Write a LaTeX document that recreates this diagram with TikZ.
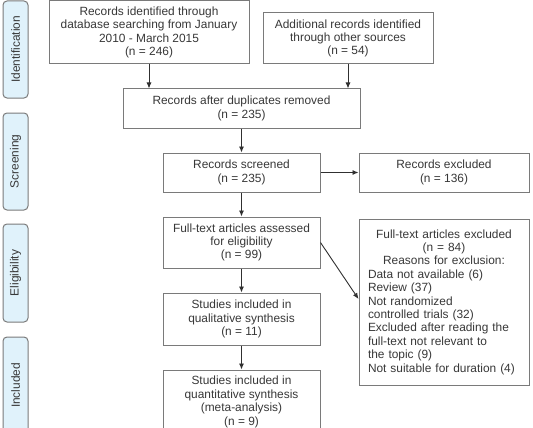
\documentclass[tikz,border=0pt]{standalone}
\usepackage{fontspec}
\setmainfont{Liberation Sans}
\usetikzlibrary{arrows.meta}
\definecolor{bordergray}{HTML}{7A7A7A}
\definecolor{txtgray}{HTML}{383838}
\definecolor{labelfill}{HTML}{E0F2FB}
\definecolor{linegray}{HTML}{303030}
\begin{document}
\begin{tikzpicture}[x=1pt,y=-1pt,
  every node/.style={font=\fontsize{11.9}{13.4}\selectfont, text=txtgray},
  box/.style={draw=bordergray, line width=1pt, fill=white, align=center, inner sep=0pt},
  stage/.style={draw=bordergray, line width=1pt, fill=labelfill, rounded corners=4pt,
    minimum width=25pt, inner sep=0pt},
  conn/.style={draw=linegray, line width=0.9pt, -{Latex[length=6pt,width=5pt]}}]
\useasboundingbox (0,0) rectangle (533,428);
\clip (0,0) rectangle (533,428);
% stage labels
\node[stage, minimum height=97pt] (lid) at (15.5,49.5) {};
\node[rotate=90] at (lid.center) {Identification};
\node[stage, minimum height=97pt] (lsc) at (15.5,161.5) {};
\node[rotate=90] at (lsc.center) {Screening};
\node[stage, minimum height=98pt] (lel) at (15.5,273) {};
\node[rotate=90] at (lel.center) {Eligibility};
\node[stage, minimum height=97pt] (lin) at (15.5,385.5) {};
\node[rotate=90] at (lin.center) {Included};
% boxes
\node[box, minimum width=200pt, minimum height=63pt] (b1) at (149,32.5)
  {Records identified through\\database searching from January\\2010 - March 2015\\(n = 246)};
\node[box, minimum width=170pt, minimum height=51pt] (b2) at (348,38.5)
  {Additional records identified\\through other sources\\(n = 54)};
\node[box, minimum width=237pt, minimum height=39pt] (dup) at (241.5,108.5)
  {Records after duplicates removed\\(n = 235)};
\node[box, minimum width=157pt, minimum height=39pt] (scr) at (241.5,172.5)
  {Records screened\\(n = 235)};
\node[box, minimum width=170pt, minimum height=39pt] (exc) at (444,172.5)
  {Records excluded\\(n = 136)};
\node[box, minimum width=157pt, minimum height=51pt] (ft) at (241.5,242.5)
  {Full-text articles assessed\\for eligibility\\(n = 99)};
\node[draw=bordergray, line width=1pt, fill=white, inner sep=0pt,
  minimum width=170pt, minimum height=166pt, text width=152pt] (ftex) at (444,302)
  {{\centering Full-text articles excluded\\(n = 84)\\Reasons for exclusion:\par}%
   {\raggedright Data not available (6)\\Review (37)\\Not randomized\\controlled trials (32)\\Excluded after reading the\\full-text not relevant to\\the topic (9)\\Not suitable for duration (4)\par}};
\node[box, minimum width=157pt, minimum height=52pt] (qual) at (241.5,319)
  {Studies included in\\qualitative synthesis\\(n = 11)};
\node[box, minimum width=157pt, minimum height=64pt] (quant) at (241.5,402)
  {Studies included in\\quantitative synthesis\\(meta-analysis)\\(n = 9)};
% connectors
\draw[conn] (b1.south) -- (b1.south |- dup.north);
\draw[conn] (b2.south) -- (b2.south |- dup.north);
\draw[conn] (dup.south) -- (scr.north);
\draw[conn] (scr.east) -- (exc.west);
\draw[conn] (scr.south) -- (ft.north);
\draw[conn] (ft.east) -- ([yshift=3pt]ftex.west);
\draw[conn] (ft.south) -- (qual.north);
\draw[conn] (qual.south) -- (quant.north);
\end{tikzpicture}
\end{document}
